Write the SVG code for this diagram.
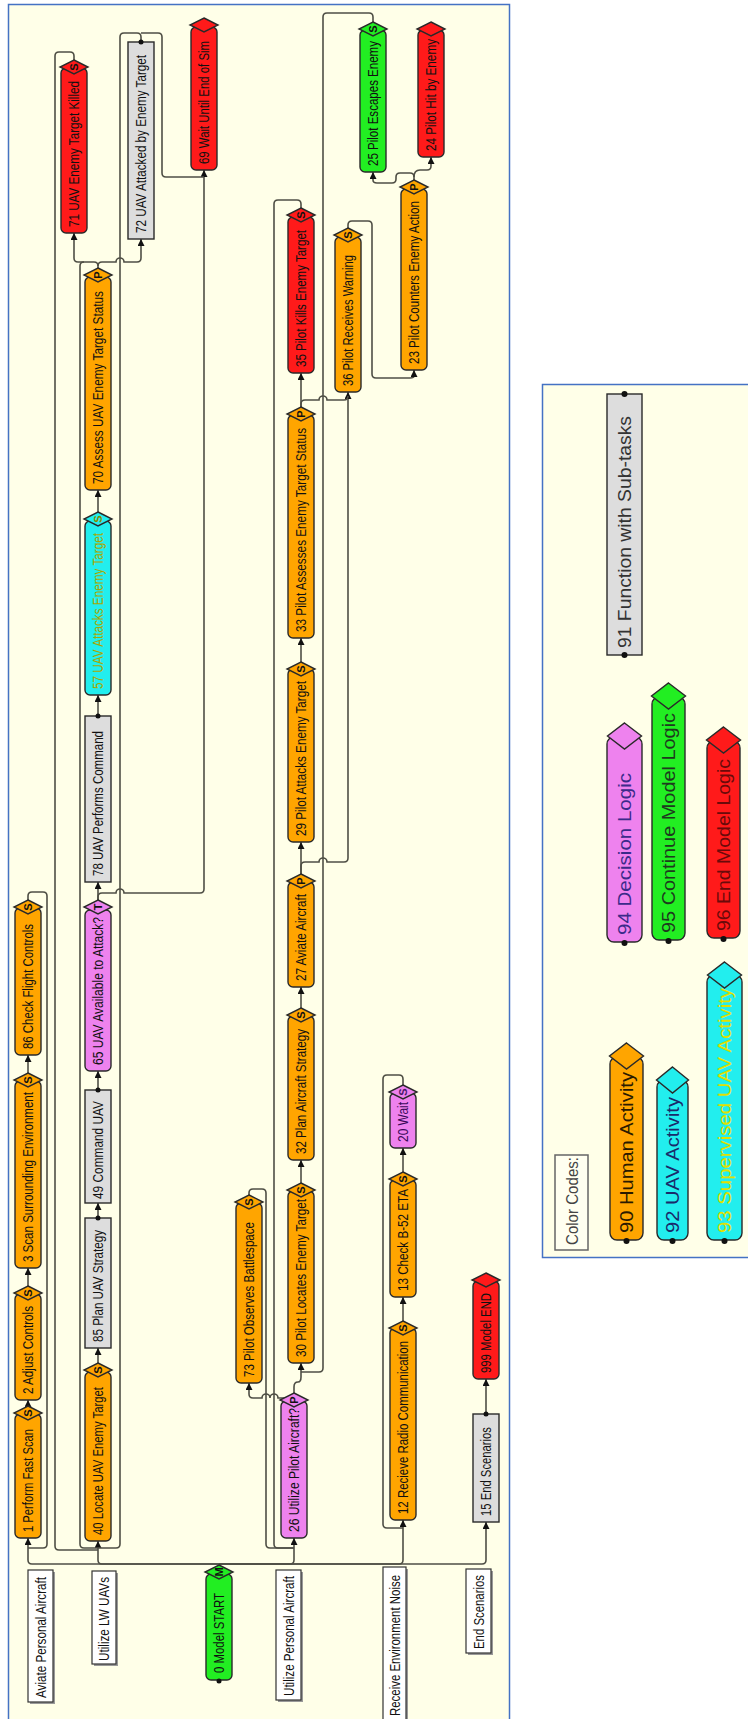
<svg xmlns="http://www.w3.org/2000/svg" width="748" height="1719" viewBox="0 0 748 1719">
<style>
.t{font-family:"Liberation Sans",Arial,sans-serif;font-size:14px;fill:#111}
.lg{font-family:"Liberation Sans",Arial,sans-serif;font-size:18px;fill:#111}
.dl{font-family:"Liberation Sans",Arial,sans-serif;font-size:11px;font-weight:bold;fill:#111;text-anchor:middle}
.p{stroke:#2a2a2a;stroke-width:1.4}
.or{fill:#FFA500}.rd{fill:#FF1A1A}.gr{fill:#22EE22}.pk{fill:#EE82EE}.cy{fill:#22EEEE}.gy{fill:#DDDDDD}
.lb{fill:#FFFFFF;stroke:#333;stroke-width:1.2}
.c{fill:none;stroke:#4f4f45;stroke-width:1.6}
.dot{fill:#111}
</style>
<defs>
<marker id="ar" viewBox="0 0 8 8" refX="8" refY="4" markerWidth="7" markerHeight="7" orient="auto" markerUnits="userSpaceOnUse"><path d="M0,0 L8,4 L0,8 z" fill="#111"/></marker>
</defs>
<rect x="0" y="0" width="748" height="1719" fill="#FFFFFF"/>
<rect x="8.5" y="4.5" width="501" height="1740" fill="#FFFFE8" stroke="#4472C4" stroke-width="1.5"/>
<rect x="542.5" y="384.5" width="210" height="873" fill="#FFFFE8" stroke="#4472C4" stroke-width="1.5"/>

<g id="connectors">
<path class="c" marker-end="url(#ar)" d="M219,1564 H32 Q28,1564 28,1560 V1538"/>
<path class="c" marker-end="url(#ar)" d="M219,1564 H102 Q98,1564 98,1560 V1541"/>
<path class="c" marker-end="url(#ar)" d="M219,1564 H290 Q294,1564 294,1560 V1538"/>
<path class="c" marker-end="url(#ar)" d="M219,1564 H399 Q403,1564 403,1560 V1520"/>
<path class="c" marker-end="url(#ar)" d="M219,1564 H482 Q486,1564 486,1560 V1522"/>
<path class="c" marker-end="url(#ar)" d="M28,1407 V1400"/>
<path class="c" marker-end="url(#ar)" d="M28,1286 V1268"/>
<path class="c" marker-end="url(#ar)" d="M28,1073 V1055"/>
<path class="c" d="M28,900 V896 Q28,892 32,892 H43 Q47,892 47,896 V1544 Q47,1548 43,1548 H28"/>
<path class="c" marker-end="url(#ar)" d="M98,1363 V1348"/>
<path class="c" marker-end="url(#ar)" d="M98,1218 V1203"/>
<path class="c" marker-end="url(#ar)" d="M98,1090 V1071"/>
<path class="c" marker-end="url(#ar)" d="M98,900 V882"/>
<path class="c" marker-end="url(#ar)" d="M98,900 V897 Q98,893 102,893 H116 A4,4 0 0 1 124,893 H200 Q204,893 204,889 V170"/>
<path class="c" marker-end="url(#ar)" d="M98,716 V695"/>
<path class="c" marker-end="url(#ar)" d="M98,512 V490"/>
<path class="c" marker-end="url(#ar)" d="M98,268 V266 Q98,262 94,262 H78 Q74,262 74,258 V233"/>
<path class="c" marker-end="url(#ar)" d="M98,266 Q98,262 102,262 H116 A4,4 0 0 1 124,262 H137 Q141,262 141,258 V239"/>
<path class="c" d="M84,262 Q80,262 80,266 V1544 Q80,1548 84,1548 H98"/>
<path class="c" d="M74,60 V56 Q74,52 70,52 H59 Q55,52 55,56 V1546 Q55,1550 59,1550 H98"/>
<path class="c" d="M141,42 V37 Q141,33 137,33 H124 Q120,33 120,37 V1544 Q120,1548 116,1548 H98"/>
<path class="c" d="M141,33 H158 Q162,33 162,37 V173 Q162,177 166,177 H204"/>
<path class="c" marker-end="url(#ar)" d="M294,1393 V1387 Q294,1382 298,1382 Q301,1382 301,1377 V1363"/>
<path class="c" marker-end="url(#ar)" d="M294,1393 Q294,1398 289,1398 H278 A4,4 0 0 0 270,1398 A4,4 0 0 0 262,1398 H253 Q249,1398 249,1394 V1383"/>
<path class="c" marker-end="url(#ar)" d="M301,1183 V1160"/>
<path class="c" marker-end="url(#ar)" d="M301,1008 V987"/>
<path class="c" marker-end="url(#ar)" d="M301,874 V842"/>
<path class="c" marker-end="url(#ar)" d="M301,874 V866 Q301,862 305,862 H319 A4,4 0 0 1 327,862 H344 Q348,862 348,858 V392"/>
<path class="c" marker-end="url(#ar)" d="M301,662 V638"/>
<path class="c" marker-end="url(#ar)" d="M301,407 V373"/>
<path class="c" d="M301,407 V404 Q301,400 305,400 H319 A4,4 0 0 1 327,400 H344 Q348,400 348,396"/>
<path class="c" d="M301,208 V204 Q301,200 297,200 H278 Q274,200 274,204 V1544 Q274,1548 278,1548 H294"/>
<path class="c" marker-end="url(#ar)" d="M348,228 V225 Q348,221 352,221 H368 Q372,221 372,225 V374 Q372,378 376,378 H410 Q414,378 414,376 V370"/>
<path class="c" marker-end="url(#ar)" d="M414,180 V177 Q414,173 410,173 H400 Q396,173 396,177 V179 Q396,183 392,183 H377 Q373,183 373,180 V172"/>
<path class="c" marker-end="url(#ar)" d="M414,177 Q414,170 420,170 H427 Q431,170 431,166 V157"/>
<path class="c" d="M373,22 V17 Q373,13 369,13 H327 Q323,13 323,17 V1368 Q323,1372 319,1372 H301"/>
<path class="c" d="M249,1195 V1193 Q249,1189 253,1189 H262 Q266,1189 266,1193 V1544 Q266,1548 270,1548 H294"/>
<path class="c" marker-end="url(#ar)" d="M403,1321 V1297"/>
<path class="c" marker-end="url(#ar)" d="M403,1172 V1148"/>
<path class="c" d="M403,1085 V1079 Q403,1075 399,1075 H387 Q383,1075 383,1079 V1524 Q383,1528 387,1528 H403"/>
<path class="c" marker-end="url(#ar)" d="M486,1414 V1379"/>
</g>

<g id="n1"><rect class="p or" x="15" y="1414" width="26" height="124" rx="5"/><polygon class="p or" points="28,1406 42,1413 28,1420 14,1413"/><text class="dl" transform="translate(32,1413) rotate(-90)">S</text><text class="t" transform="translate(33,1532) rotate(-90)" textLength="103" lengthAdjust="spacingAndGlyphs">1 Perform Fast Scan</text></g>
<g id="n2"><rect class="p or" x="15" y="1294" width="26" height="106" rx="5"/><polygon class="p or" points="28,1286 42,1293 28,1300 14,1293"/><text class="dl" transform="translate(32,1293) rotate(-90)">S</text><text class="t" transform="translate(33,1394) rotate(-90)" textLength="88" lengthAdjust="spacingAndGlyphs">2 Adjust Controls</text></g>
<g id="n3"><rect class="p or" x="15" y="1081" width="26" height="187" rx="5"/><polygon class="p or" points="28,1073 42,1080 28,1087 14,1080"/><text class="dl" transform="translate(32,1080) rotate(-90)">S</text><text class="t" transform="translate(33,1262) rotate(-90)" textLength="170" lengthAdjust="spacingAndGlyphs">3 Scan Surrounding Environment</text></g>
<g id="n86"><rect class="p or" x="15" y="908" width="26" height="147" rx="5"/><polygon class="p or" points="28,900 42,907 28,914 14,907"/><text class="dl" transform="translate(32,907) rotate(-90)">S</text><text class="t" transform="translate(33,1049) rotate(-90)" textLength="125" lengthAdjust="spacingAndGlyphs">86 Check Flight Controls</text></g>

<g id="n40"><rect class="p or" x="85" y="1372" width="26" height="169" rx="5"/><polygon class="p or" points="98,1363 112,1370 98,1377 84,1370"/><text class="dl" transform="translate(102,1370) rotate(-90)">S</text><text class="t" transform="translate(103,1535) rotate(-90)" textLength="148" lengthAdjust="spacingAndGlyphs">40 Locate UAV Enemy Target</text></g>
<g id="n85"><rect class="p gy" x="85" y="1218" width="26" height="130"/><circle class="dot" cx="98" cy="1218" r="2.5"/><text class="t" transform="translate(103,1342) rotate(-90)" textLength="112" lengthAdjust="spacingAndGlyphs">85 Plan UAV Strategy</text></g>
<g id="n49"><rect class="p gy" x="85" y="1090" width="26" height="113"/><circle class="dot" cx="98" cy="1090" r="2.5"/><text class="t" transform="translate(103,1199) rotate(-90)" textLength="98" lengthAdjust="spacingAndGlyphs">49 Command UAV</text></g>
<g id="n65"><rect class="p pk" x="85" y="910" width="26" height="161" rx="5"/><polygon class="p pk" points="98,900 112,907 98,914 84,907"/><text class="dl" transform="translate(102,907) rotate(-90)">T</text><text class="t" transform="translate(103,1065) rotate(-90)" textLength="148" lengthAdjust="spacingAndGlyphs">65 UAV Available to Attack?</text></g>
<g id="n78"><rect class="p gy" x="85" y="716" width="26" height="166"/><circle class="dot" cx="98" cy="716" r="2.5"/><text class="t" transform="translate(103,876) rotate(-90)" textLength="145" lengthAdjust="spacingAndGlyphs">78 UAV Performs Command</text></g>
<g id="n57"><rect class="p cy" x="85" y="521" width="26" height="174" rx="5"/><polygon class="p cy" points="98,512 112,519 98,526 84,519"/><text class="dl" transform="translate(102,519) rotate(-90)" style="fill:#8a8a00">S</text><text class="t" transform="translate(103,689) rotate(-90)" textLength="156" lengthAdjust="spacingAndGlyphs" style="fill:#A8A800">57 UAV Attacks Enemy Target</text></g>
<g id="n70"><rect class="p or" x="85" y="277" width="26" height="213" rx="5"/><polygon class="p or" points="98,268 112,275 98,282 84,275"/><text class="dl" transform="translate(102,275) rotate(-90)">P</text><text class="t" transform="translate(103,484) rotate(-90)" textLength="193" lengthAdjust="spacingAndGlyphs">70 Assess UAV Enemy Target Status</text></g>
<g id="n71"><rect class="p rd" x="61" y="68" width="26" height="165" rx="5"/><polygon class="p rd" points="74,60 88,67 74,74 60,67"/><text class="dl" transform="translate(78,67) rotate(-90)">S</text><text class="t" transform="translate(79,227) rotate(-90)" textLength="146" lengthAdjust="spacingAndGlyphs">71 UAV Enemy Target Killed</text></g>
<g id="n72"><rect class="p gy" x="128" y="42" width="26" height="197"/><circle class="dot" cx="141" cy="42" r="2.5"/><text class="t" transform="translate(146,233) rotate(-90)" textLength="178" lengthAdjust="spacingAndGlyphs">72 UAV Attacked by Enemy Target</text></g>
<g id="n69"><rect class="p rd" x="191" y="27" width="26" height="143" rx="5"/><polygon class="p rd" points="204,18 218,25 204,32 190,25"/><text class="t" transform="translate(209,164) rotate(-90)" textLength="123" lengthAdjust="spacingAndGlyphs">69 Wait Until End of Sim</text></g>

<g id="n35"><rect class="p rd" x="288" y="217" width="26" height="156" rx="5"/><polygon class="p rd" points="301,208 315,215 301,222 287,215"/><text class="dl" transform="translate(305,215) rotate(-90)">S</text><text class="t" transform="translate(306,367) rotate(-90)" textLength="137" lengthAdjust="spacingAndGlyphs">35 Pilot Kills Enemy Target</text></g>
<g id="n36"><rect class="p or" x="335" y="237" width="26" height="155" rx="5"/><polygon class="p or" points="348,228 362,235 348,242 334,235"/><text class="dl" transform="translate(352,235) rotate(-90)">S</text><text class="t" transform="translate(353,386) rotate(-90)" textLength="131" lengthAdjust="spacingAndGlyphs">36 Pilot Receives Warning</text></g>
<g id="n23"><rect class="p or" x="401" y="189" width="26" height="181" rx="5"/><polygon class="p or" points="414,180 428,187 414,194 400,187"/><text class="dl" transform="translate(418,187) rotate(-90)">P</text><text class="t" transform="translate(419,364) rotate(-90)" textLength="163" lengthAdjust="spacingAndGlyphs">23 Pilot Counters Enemy Action</text></g>
<g id="n25"><rect class="p gr" x="360" y="30" width="26" height="142" rx="5"/><polygon class="p gr" points="373,22 387,29 373,36 359,29"/><text class="dl" transform="translate(377,29) rotate(-90)">S</text><text class="t" transform="translate(378,166) rotate(-90)" textLength="125" lengthAdjust="spacingAndGlyphs">25 Pilot Escapes Enemy</text></g>
<g id="n24"><rect class="p rd" x="418" y="30" width="26" height="127" rx="5"/><polygon class="p rd" points="431,22 445,29 431,36 417,29"/><text class="t" transform="translate(436,151) rotate(-90)" textLength="112" lengthAdjust="spacingAndGlyphs">24 Pilot Hit by Enemy</text></g>
<g id="n33"><rect class="p or" x="288" y="415" width="26" height="223" rx="5"/><polygon class="p or" points="301,407 315,414 301,421 287,414"/><text class="dl" transform="translate(305,414) rotate(-90)">P</text><text class="t" transform="translate(306,632) rotate(-90)" textLength="204" lengthAdjust="spacingAndGlyphs">33 Pilot Assesses Enemy Target Status</text></g>
<g id="n29"><rect class="p or" x="288" y="669" width="26" height="173" rx="5"/><polygon class="p or" points="301,662 315,669 301,676 287,669"/><text class="dl" transform="translate(305,669) rotate(-90)">S</text><text class="t" transform="translate(306,836) rotate(-90)" textLength="155" lengthAdjust="spacingAndGlyphs">29 Pilot Attacks Enemy Target</text></g>
<g id="n27"><rect class="p or" x="288" y="882" width="26" height="105" rx="5"/><polygon class="p or" points="301,874 315,881 301,888 287,881"/><text class="dl" transform="translate(305,881) rotate(-90)">P</text><text class="t" transform="translate(306,981) rotate(-90)" textLength="87" lengthAdjust="spacingAndGlyphs">27 Aviate Aircraft</text></g>
<g id="n32"><rect class="p or" x="288" y="1016" width="26" height="144" rx="5"/><polygon class="p or" points="301,1008 315,1015 301,1022 287,1015"/><text class="dl" transform="translate(305,1015) rotate(-90)">S</text><text class="t" transform="translate(306,1154) rotate(-90)" textLength="125" lengthAdjust="spacingAndGlyphs">32 Plan Aircraft Strategy</text></g>
<g id="n30"><rect class="p or" x="288" y="1191" width="26" height="172" rx="5"/><polygon class="p or" points="301,1183 315,1190 301,1197 287,1190"/><text class="dl" transform="translate(305,1190) rotate(-90)">S</text><text class="t" transform="translate(306,1357) rotate(-90)" textLength="158" lengthAdjust="spacingAndGlyphs">30 Pilot Locates Enemy Target</text></g>
<g id="n26"><rect class="p pk" x="281" y="1401" width="26" height="137" rx="5"/><polygon class="p pk" points="294,1393 308,1400 294,1407 280,1400"/><text class="dl" transform="translate(298,1400) rotate(-90)">P</text><text class="t" transform="translate(299,1532) rotate(-90)" textLength="124" lengthAdjust="spacingAndGlyphs">26 Utilize Pilot Aircraft?</text></g>
<g id="n73"><rect class="p or" x="236" y="1203" width="26" height="180" rx="5"/><polygon class="p or" points="249,1195 263,1202 249,1209 235,1202"/><text class="dl" transform="translate(253,1202) rotate(-90)">S</text><text class="t" transform="translate(254,1377) rotate(-90)" textLength="155" lengthAdjust="spacingAndGlyphs">73 Pilot Observes Battlespace</text></g>

<g id="n12"><rect class="p or" x="390" y="1328" width="26" height="192" rx="5"/><polygon class="p or" points="403,1321 417,1328 403,1335 389,1328"/><text class="dl" transform="translate(407,1328) rotate(-90)">S</text><text class="t" transform="translate(408,1514) rotate(-90)" textLength="173" lengthAdjust="spacingAndGlyphs">12 Recieve Radio Communication</text></g>
<g id="n13"><rect class="p or" x="390" y="1180" width="26" height="117" rx="5"/><polygon class="p or" points="403,1172 417,1179 403,1186 389,1179"/><text class="dl" transform="translate(407,1179) rotate(-90)">S</text><text class="t" transform="translate(408,1291) rotate(-90)" textLength="102" lengthAdjust="spacingAndGlyphs">13 Check B-52 ETA</text></g>
<g id="n20"><rect class="p pk" x="390" y="1093" width="26" height="55" rx="5"/><polygon class="p pk" points="403,1085 417,1092 403,1099 389,1092"/><text class="dl" transform="translate(407,1092) rotate(-90)" style="fill:#4a1a6a">S</text><text class="t" transform="translate(408,1142) rotate(-90)" textLength="40" lengthAdjust="spacingAndGlyphs" style="fill:#3a0a5a">20 Wait</text></g>
<g id="n15"><rect class="p gy" x="473" y="1414" width="26" height="108"/><circle class="dot" cx="486" cy="1414" r="2.5"/><text class="t" transform="translate(491,1516) rotate(-90)" textLength="89" lengthAdjust="spacingAndGlyphs">15 End Scenarios</text></g>
<g id="n999"><rect class="p rd" x="473" y="1281" width="26" height="98" rx="5"/><polygon class="p rd" points="486,1273 500,1280 486,1287 472,1280"/><text class="t" transform="translate(491,1373) rotate(-90)" textLength="80" lengthAdjust="spacingAndGlyphs">999 Model END</text></g>
<g id="n0"><rect class="p gr" x="206" y="1574" width="26" height="106" rx="5"/><polygon class="p gr" points="219,1565 233,1572 219,1579 205,1572"/><text class="dl" transform="translate(223,1572) rotate(-90)">M</text><circle class="dot" cx="219" cy="1681" r="2.5"/><text class="t" transform="translate(224,1673) rotate(-90)" textLength="80" lengthAdjust="spacingAndGlyphs">0 Model START</text></g>

<g id="lane1"><rect x="30" y="1572" width="25" height="132" fill="#999"/><rect class="lb" x="28" y="1570" width="25" height="132"/><text class="t" transform="translate(45.5,1698) rotate(-90)" textLength="121" lengthAdjust="spacingAndGlyphs">Aviate Personal Aircraft</text></g>
<g id="lane2"><rect x="94" y="1573" width="24" height="93" fill="#999"/><rect class="lb" x="92" y="1571" width="24" height="93"/><text class="t" transform="translate(109,1661) rotate(-90)" textLength="84" lengthAdjust="spacingAndGlyphs">Utilize LW UAVs</text></g>
<g id="lane3"><rect x="278" y="1572" width="25" height="130" fill="#999"/><rect class="lb" x="276" y="1570" width="25" height="130"/><text class="t" transform="translate(293.5,1696) rotate(-90)" textLength="120" lengthAdjust="spacingAndGlyphs">Utilize Personal Aircraft</text></g>
<g id="lane4"><rect x="385" y="1569" width="23" height="170" fill="#999"/><rect class="lb" x="383" y="1567" width="23" height="170"/><text class="t" transform="translate(399.5,1716) rotate(-90)" textLength="141" lengthAdjust="spacingAndGlyphs">Receive Environment Noise</text></g>
<g id="lane5"><rect x="468" y="1571" width="25" height="84" fill="#999"/><rect class="lb" x="466" y="1569" width="25" height="84"/><text class="t" transform="translate(483.5,1649) rotate(-90)" textLength="74" lengthAdjust="spacingAndGlyphs">End Scenarios</text></g>

<g id="legend">
<g id="l91"><rect class="p gy" x="607" y="394" width="35" height="261"/><circle class="dot" cx="624.5" cy="394" r="3"/><circle class="dot" cx="624.5" cy="655" r="3"/><text class="lg" transform="translate(631,648) rotate(-90)" textLength="232" lengthAdjust="spacingAndGlyphs" style="fill:#333">91 Function with Sub-tasks</text></g>
<g id="l94"><rect class="p pk" x="607" y="737" width="35" height="205" rx="7"/><polygon class="p pk" points="624.5,723 641.5,736 624.5,749 607.5,736"/><circle class="dot" cx="624.5" cy="943" r="3"/><text class="lg" transform="translate(631,935) rotate(-90)" textLength="162" lengthAdjust="spacingAndGlyphs" style="fill:#3B2A8A">94 Decision Logic</text></g>
<g id="l95"><rect class="p gr" x="652" y="697" width="33" height="243" rx="7"/><polygon class="p gr" points="668.5,683 685.5,696 668.5,709 651.5,696"/><circle class="dot" cx="668.5" cy="941" r="3"/><text class="lg" transform="translate(675,933) rotate(-90)" textLength="220" lengthAdjust="spacingAndGlyphs" style="fill:#1E3A1E">95 Continue Model Logic</text></g>
<g id="l96"><rect class="p rd" x="707" y="741" width="33" height="197" rx="7"/><polygon class="p rd" points="723.5,727 740.5,740 723.5,753 706.5,740"/><circle class="dot" cx="723.5" cy="939" r="3"/><text class="lg" transform="translate(730,931) rotate(-90)" textLength="172" lengthAdjust="spacingAndGlyphs" style="fill:#6A0A0A">96 End Model Logic</text></g>
<g id="lcc"><rect x="555" y="1155" width="33" height="95" fill="#FFFFF0" stroke="#666" stroke-width="1.5"/><text class="lg" transform="translate(578,1245) rotate(-90)" textLength="88" lengthAdjust="spacingAndGlyphs" style="fill:#444;font-size:17px">Color Codes:</text></g>
<g id="l90"><rect class="p or" x="610" y="1057" width="33" height="183" rx="7"/><polygon class="p or" points="626.5,1043 643.5,1056 626.5,1069 609.5,1056"/><circle class="dot" cx="626.5" cy="1241" r="3"/><text class="lg" transform="translate(633,1233) rotate(-90)" textLength="161" lengthAdjust="spacingAndGlyphs" style="fill:#2a1a00">90 Human Activity</text></g>
<g id="l92"><rect class="p cy" x="657" y="1080" width="31" height="160" rx="7"/><polygon class="p cy" points="672.5,1067 688.5,1080 672.5,1093 656.5,1080"/><circle class="dot" cx="672.5" cy="1241" r="3"/><text class="lg" transform="translate(679,1233) rotate(-90)" textLength="136" lengthAdjust="spacingAndGlyphs" style="fill:#1A2A6A">92 UAV Activity</text></g>
<g id="l93"><rect class="p cy" x="707" y="975" width="35" height="265" rx="7"/><polygon class="p cy" points="724.5,962 741.5,975 724.5,988 707.5,975"/><circle class="dot" cx="724.5" cy="1241" r="3"/><text class="lg" transform="translate(731,1233) rotate(-90)" textLength="245" lengthAdjust="spacingAndGlyphs" style="fill:#E0E000">93 Supervised UAV Activity</text></g>
</g>
</svg>
